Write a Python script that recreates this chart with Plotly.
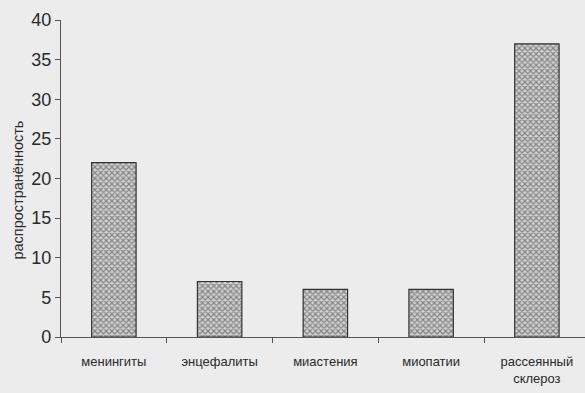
import plotly.graph_objects as go

categories = ["менингиты", "энцефалиты", "миастения", "миопатии", "рассеянный<br>склероз"]
values = [22, 7, 6, 6, 37]
y_ticks = [0, 5, 10, 15, 20, 25, 30, 35, 40]
y_title = "распространённость"

font_fam = "Liberation Sans Narrow, Arial Narrow, Liberation Sans, Arial"

fig = go.Figure(go.Bar(
    x=categories, y=values, width=0.42,
    marker=dict(
        color="#d2d2d2",
        line=dict(color="#333333", width=1.2),
        pattern=dict(shape="x", size=4, solidity=0.5, fgcolor="#333333", fillmode="overlay"),
    ),
    hoverinfo="skip",
))

fig.update_layout(
    width=585, height=393,
    margin=dict(l=61, r=0, t=20, b=56),
    paper_bgcolor="#ececec", plot_bgcolor="#ececec",
    showlegend=False,
    font=dict(family=font_fam, color="#2a2a2a"),
)
fig.update_xaxes(
    range=[-0.5, 4.455], showline=True, linecolor="#555555", linewidth=1.2,
    ticks="outside", tickson="boundaries", ticklen=5, tickcolor="#555555",
    tickfont=dict(size=13, family=font_fam), showgrid=False, ticklabelstandoff=12,
    automargin=False,
)
fig.update_yaxes(
    range=[0, 40], tickvals=y_ticks, showline=True, linecolor="#555555", linewidth=1.2,
    ticks="outside", ticklen=5, tickcolor="#555555", showgrid=False, zeroline=False,
    tickfont=dict(size=18, family=font_fam), ticklabelstandoff=0,
    automargin=False,
)
fig.add_annotation(
    text=y_title, textangle=-90, showarrow=False,
    xref="paper", yref="paper", x=-0.082, y=0.462,
    xanchor="center", yanchor="middle",
    font=dict(size=14.5, family="Liberation Sans, Arial", color="#2a2a2a"),
)

fig.write_html(
    "out.html",
    config={"displayModeBar": False},
    post_script="document.body.style.margin='0';document.body.style.background='#ececec';",
)
